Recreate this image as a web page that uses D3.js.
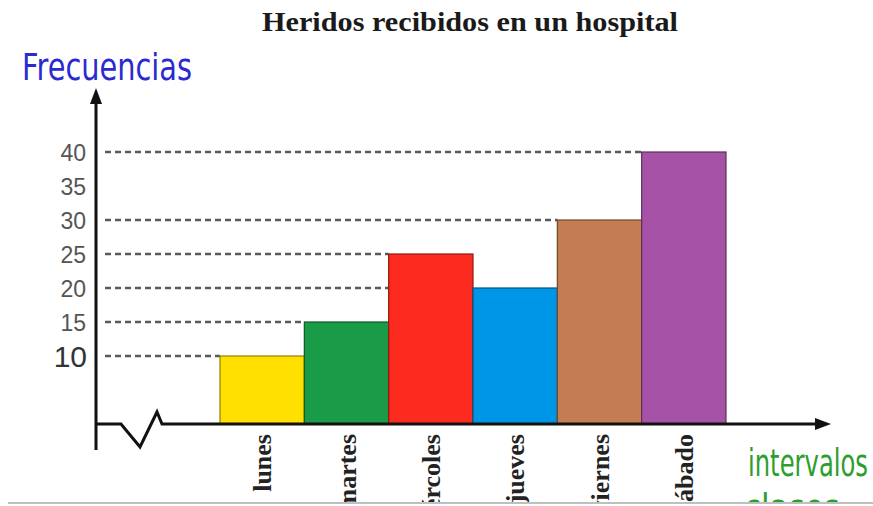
<!DOCTYPE html>
<html>
<head>
<meta charset="utf-8">
<script src="https://cdn.jsdelivr.net/npm/d3@7"></script>
<style>
  html, body { margin: 0; padding: 0; background: #fff; }
  svg { display: block; }
</style>
</head>
<body>
<svg id="chart" width="873" height="506"></svg>
<script>
// Injured patients received per weekday
const dias = ["lunes", "martes", "miércoles", "jueves", "viernes", "sábado"];
const heridos = [10, 15, 25, 20, 30, 40];
const colores = ["#ffe000", "#1a9b48", "#fd2b1f", "#0096e8", "#c47d52", "#a652a7"];
const ticksY = [10, 15, 20, 25, 30, 35, 40];
const titulo = "Heridos recibidos en un hospital";

const svg = d3.select("#chart");
const W = 873, H = 506;

const x = d3.scaleBand().domain(dias).range([220, 726]).padding(0);
const y = d3.scaleLinear().domain([0, 40]).range([424, 152]);

const axisX0 = 96;

// Clip for content above the bottom rule
svg.append("defs").append("clipPath").attr("id", "clipAll")
  .append("rect").attr("x", 0).attr("y", 0).attr("width", W).attr("height", 502);

const g = svg.append("g").attr("clip-path", "url(#clipAll)");

// Title
g.append("text")
  .attr("x", 262).attr("y", 31)
  .attr("font-family", "'Liberation Serif', 'Times New Roman', serif")
  .attr("font-weight", "bold")
  .attr("font-size", 27)
  .attr("textLength", 416)
  .attr("lengthAdjust", "spacingAndGlyphs")
  .attr("fill", "#1a1a1a")
  .text(titulo);

// Dashed guide lines: from the axis to the first bar reaching that height
heridos.forEach(v => {
  const idx = heridos.findIndex(h => h >= v);
  g.append("line")
    .attr("x1", 105).attr("x2", x(dias[idx]))
    .attr("y1", y(v)).attr("y2", y(v))
    .attr("stroke", "#5a5a5a")
    .attr("stroke-width", 2.4)
    .attr("stroke-dasharray", "6,4");
});

// Bars
g.selectAll("rect.bar")
  .data(dias)
  .enter().append("rect")
  .attr("class", "bar")
  .attr("x", d => x(d))
  .attr("y", (d, i) => y(heridos[i]))
  .attr("width", x.bandwidth())
  .attr("height", (d, i) => y(0) - y(heridos[i]))
  .attr("fill", (d, i) => colores[i])
  .attr("stroke", (d, i) => d3.color(colores[i]).darker(1.6))
  .attr("stroke-width", 1.2);

// Y tick labels (no tick marks)
const yAxis = d3.axisLeft(y).tickValues(ticksY).tickSize(0).tickPadding(0);
const ya = g.append("g").attr("transform", "translate(86,0)").call(yAxis);
ya.select(".domain").remove();
ya.selectAll("text")
  .attr("font-family", "'Liberation Sans', Arial, sans-serif")
  .attr("font-size", d => d === 10 ? 30 : 23)
  .attr("fill", d => d === 10 ? "#333" : "#555")
  .attr("transform", d => d === 10 ? "translate(1,0)" : null)
  .attr("dy", "0.36em");

// Y axis line with arrow
g.append("line")
  .attr("x1", axisX0).attr("x2", axisX0)
  .attr("y1", 100).attr("y2", 450)
  .attr("stroke", "#111").attr("stroke-width", 3);
g.append("path")
  .attr("d", `M${axisX0},88 L${axisX0 - 6},104 L${axisX0 + 6},104 Z`)
  .attr("fill", "#111");

// X axis line with break symbol and arrow
g.append("path")
  .attr("d", `M${axisX0},424 L121,424 L140,447 L157,412 L162,424 L818,424`)
  .attr("fill", "none")
  .attr("stroke", "#111").attr("stroke-width", 3)
  .attr("stroke-linejoin", "miter");
g.append("path")
  .attr("d", "M831,424 L815,418 L815,430 Z")
  .attr("fill", "#111");

// Category labels, rotated
const xAxis = d3.axisBottom(x).tickSize(0).tickPadding(0);
const xa = g.append("g").attr("transform", "translate(0,434)").call(xAxis);
xa.select(".domain").remove();
xa.selectAll("text")
  .attr("transform", "rotate(-90)")
  .attr("text-anchor", "end")
  .attr("x", 0).attr("y", 0).attr("dy", "0.35em")
  .attr("font-family", "'Liberation Serif', 'Times New Roman', serif")
  .attr("font-weight", "bold")
  .attr("font-size", 26)
  .attr("fill", "#222");

// Handwritten axis notes
g.append("text")
  .attr("x", 22).attr("y", 80)
  .attr("font-family", "'DejaVu Sans', sans-serif")
  .attr("font-size", 30)
  .attr("fill", "#2a2ad0")
  .attr("textLength", 170)
  .attr("lengthAdjust", "spacingAndGlyphs")
  .attr("transform", "translate(22,80) scale(1,1.25) translate(-22,-80)")
  .text("Frecuencias");
g.append("text")
  .attr("x", 748).attr("y", 476)
  .attr("font-family", "'DejaVu Sans', sans-serif")
  .attr("font-size", 28)
  .attr("fill", "#2c9e2c")
  .attr("textLength", 120)
  .attr("lengthAdjust", "spacingAndGlyphs")
  .attr("transform", "translate(748,476) scale(1,1.3) translate(-748,-476)")
  .text("intervalos");
g.append("text")
  .attr("x", 744).attr("y", 521)
  .attr("font-family", "'DejaVu Sans', sans-serif")
  .attr("font-size", 28)
  .attr("fill", "#2c9e2c")
  .attr("textLength", 96)
  .attr("lengthAdjust", "spacingAndGlyphs")
  .attr("transform", "translate(744,521) scale(1,1.3) translate(-744,-521)")
  .text("clases");

// Bottom rule
svg.append("line")
  .attr("x1", 8).attr("x2", W)
  .attr("y1", 503).attr("y2", 503)
  .attr("stroke", "#aaa").attr("stroke-width", 1.5);
</script>
</body>
</html>
